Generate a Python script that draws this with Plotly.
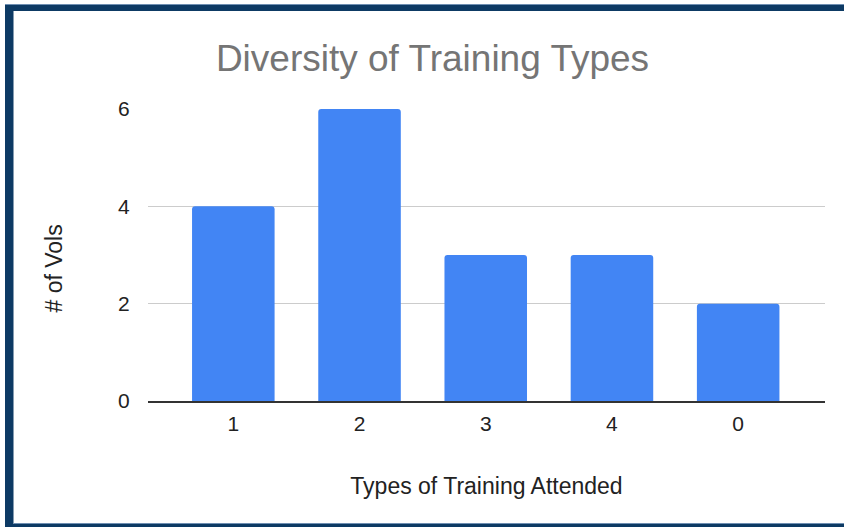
import plotly.graph_objects as go

categories = ["1", "2", "3", "4", "0"]
vols = [4, 6, 3, 3, 2]
y_ticks = [0, 2, 4, 6]

W, H = 844, 527
ML, MR, MT, MB = 148, 19, 108, 126
PW, PH = W - ML - MR, H - MT - MB


def px_x(p):
    return (p - ML) / PW


def px_y(p):
    return (H - MB - p) / PH


NAVY = "#0d3a64"
LIGHT = "#6f8fb2"

fig = go.Figure(
    go.Bar(
        x=list(range(len(categories))),
        y=vols,
        marker=dict(color="#4285F4", line=dict(width=0)),
        width=0.654,
    )
)

shapes = [
    dict(type="rect", xref="paper", yref="paper", x0=px_x(5), x1=px_x(13.5),
         y0=px_y(5), y1=px_y(527), fillcolor=NAVY, line=dict(width=0), layer="above"),
    dict(type="rect", xref="paper", yref="paper", x0=px_x(5), x1=px_x(844),
         y0=px_y(5), y1=px_y(11), fillcolor=NAVY, line=dict(width=0), layer="above"),
    dict(type="rect", xref="paper", yref="paper", x0=px_x(5), x1=px_x(844),
         y0=px_y(4), y1=px_y(5), fillcolor=LIGHT, line=dict(width=0), layer="above"),
    dict(type="rect", xref="paper", yref="paper", x0=px_x(5), x1=px_x(844),
         y0=px_y(524), y1=px_y(527), fillcolor=NAVY, line=dict(width=0), layer="above"),
    dict(type="rect", xref="paper", yref="paper", x0=px_x(13.5), x1=px_x(844),
         y0=px_y(523), y1=px_y(524), fillcolor=LIGHT, line=dict(width=0), layer="above"),
]

fig.update_layout(
    width=W,
    height=H,
    margin=dict(l=ML, r=MR, t=MT, b=MB, pad=0),
    paper_bgcolor="white",
    plot_bgcolor="white",
    barcornerradius=3,
    showlegend=False,
    font=dict(family="Arial, 'Liberation Sans', sans-serif", color="#222222"),
    title=dict(
        text="Diversity of Training Types",
        x=432.5 / W,
        xanchor="center",
        y=1 - 58 / H,
        yanchor="middle",
        font=dict(size=37, color="#757575"),
    ),
    xaxis=dict(
        range=[-0.676, 4.688],
        tickmode="array",
        tickvals=list(range(len(categories))),
        ticktext=categories,
        showgrid=False,
        zeroline=False,
        showline=True,
        linecolor="#333333",
        linewidth=2,
        ticks="outside",
        ticklen=3,
        tickcolor="rgba(0,0,0,0)",
        tickfont=dict(size=21, color="#222222"),
        title=dict(text="Types of Training Attended", font=dict(size=23, color="#222222"), standoff=44),
        fixedrange=True,
    ),
    yaxis=dict(
        range=[0, 6.02],
        tickmode="array",
        tickvals=y_ticks,
        ticktext=[str(v) for v in y_ticks],
        showgrid=True,
        gridcolor="#cccccc",
        gridwidth=1,
        zeroline=False,
        showline=False,
        ticks="outside",
        ticklen=13,
        tickcolor="rgba(0,0,0,0)",
        tickfont=dict(size=21, color="#222222"),
        fixedrange=True,
    ),
    annotations=[
        dict(
            text="# of Vols",
            xref="paper",
            yref="paper",
            x=px_x(53),
            y=px_y(268.5),
            xanchor="center",
            yanchor="middle",
            textangle=-90,
            showarrow=False,
            font=dict(size=23, color="#222222"),
        )
    ],
    shapes=shapes,
)

fig.write_html("out.html")
